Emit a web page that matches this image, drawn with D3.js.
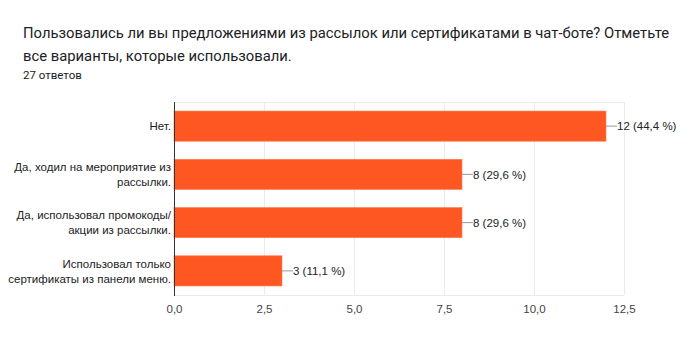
<!DOCTYPE html>
<html>
<head>
<meta charset="utf-8">
<script src="https://cdn.jsdelivr.net/npm/d3@7"></script>
<style>
  body { margin: 0; background: #fff; }
  #chart { width: 694px; height: 353px; }
</style>
</head>
<body>
<div id="chart"></div>
<script>
// question + answer data
let titleLines = ['Пользовались ли вы предложениями из рассылок или сертификатами в чат-боте? Отметьте',
                  'все варианты, которые использовали.'];
let subtitle = '27 ответов';

let categories = [
    ['Нет.'],
    ['Да, ходил на мероприятие из', 'рассылки.'],
    ['Да, использовал промокоды/', 'акции из рассылки.'],
    ['Использовал только', 'сертификаты из панели меню.']
];
let counts = [12, 8, 8, 3];
let percents = ['44,4', '29,6', '29,6', '11,1'];
let ticks = [0, 2.5, 5, 7.5, 10, 12.5];

let dim = { width: 694, height: 353 };
let plot = { left: 174, right: 624, top: 102, bottom: 295 };

let svg = d3.select('#chart').append('svg')
    .attr('width', dim.width)
    .attr('height', dim.height);

// title
svg.selectAll('.title')
    .data(titleLines)
    .enter().append('text')
    .attr('class', 'title')
    .attr('x', 23)
    .attr('y', (d, i) => 38 + i * 23)
    .attr('font-family', 'Roboto, sans-serif')
    .attr('font-size', 14.8)
    .attr('fill', '#202124')
    .text(d => d);

svg.append('text')
    .attr('x', 23)
    .attr('y', 79)
    .attr('font-family', 'Roboto, sans-serif')
    .attr('font-size', 11.5)
    .attr('fill', '#202124')
    .text(subtitle);

let scaleX = d3.scaleLinear()
    .domain([0, 12.5])
    .range([plot.left, plot.right]);

let idx = d3.range(categories.length);
let scaleY = d3.scaleBand()
    .domain(idx)
    .range([plot.top, plot.bottom])
    .paddingInner(0.375)
    .paddingOuter(0.1875);

// gridlines
svg.selectAll('.grid')
    .data(ticks.slice(1))
    .enter().append('line')
    .attr('x1', d => scaleX(d) + 0.5)
    .attr('x2', d => scaleX(d) + 0.5)
    .attr('y1', plot.top)
    .attr('y2', plot.bottom)
    .attr('stroke', '#ebebeb')
    .attr('stroke-width', 1);
svg.append('line')
    .attr('x1', plot.left).attr('x2', plot.right)
    .attr('y1', plot.top + 0.5).attr('y2', plot.top + 0.5)
    .attr('stroke', '#ebebeb');
svg.append('line')
    .attr('x1', plot.left).attr('x2', plot.right)
    .attr('y1', plot.bottom + 0.5).attr('y2', plot.bottom + 0.5)
    .attr('stroke', '#ebebeb');

// x axis labels
let axisX = svg.append('g')
    .attr('transform', `translate(0,${plot.bottom})`)
    .call(d3.axisBottom(scaleX).tickValues(ticks).tickSize(0).tickPadding(10)
        .tickFormat(d => d3.format('.1f')(d).replace('.', ',')));
axisX.select('.domain').remove();
axisX.selectAll('text')
    .attr('font-family', 'Liberation Sans, Arial, sans-serif')
    .attr('font-size', 11.5)
    .attr('fill', '#444');

// bars
svg.selectAll('.bar')
    .data(idx)
    .enter().append('rect')
    .attr('class', 'bar')
    .attr('x', scaleX(0))
    .attr('y', i => scaleY(i))
    .attr('width', i => scaleX(counts[i]) - scaleX(0))
    .attr('height', scaleY.bandwidth())
    .attr('fill', '#ff5722')
    .attr('stroke', '#ff7a50')
    .attr('stroke-width', 0.6);

// y axis line
svg.append('line')
    .attr('x1', plot.left + 0.5).attr('x2', plot.left + 0.5)
    .attr('y1', plot.top).attr('y2', plot.bottom + 1)
    .attr('stroke', '#333');

// category labels
let labels = svg.selectAll('.cat')
    .data(idx)
    .enter().append('text')
    .attr('class', 'cat')
    .attr('text-anchor', 'end')
    .attr('font-family', 'Liberation Sans, Arial, sans-serif')
    .attr('font-size', 11.5)
    .attr('fill', '#222');
labels.each(function (i) {
    let lines = categories[i];
    let cy = scaleY(i) + scaleY.bandwidth() / 2;
    d3.select(this).selectAll('tspan')
        .data(lines)
        .enter().append('tspan')
        .attr('x', plot.left - 3)
        .attr('y', (d, j) => cy + 4.3 + (j - (lines.length - 1) / 2) * 15)
        .text(d => d);
});

// leader lines + value labels
svg.selectAll('.lead')
    .data(idx)
    .enter().append('line')
    .attr('x1', i => scaleX(counts[i]))
    .attr('x2', i => scaleX(counts[i]) + 11)
    .attr('y1', i => scaleY(i) + scaleY.bandwidth() / 2)
    .attr('y2', i => scaleY(i) + scaleY.bandwidth() / 2)
    .attr('stroke', '#999');

svg.selectAll('.val')
    .data(idx)
    .enter().append('text')
    .attr('x', i => scaleX(counts[i]) + 11)
    .attr('y', i => scaleY(i) + scaleY.bandwidth() / 2 + 4.3)
    .attr('font-family', 'Liberation Sans, Arial, sans-serif')
    .attr('font-size', 11.5)
    .attr('fill', '#222')
    .text(i => `${counts[i]} (${percents[i]} %)`);
</script>
</body>
</html>
